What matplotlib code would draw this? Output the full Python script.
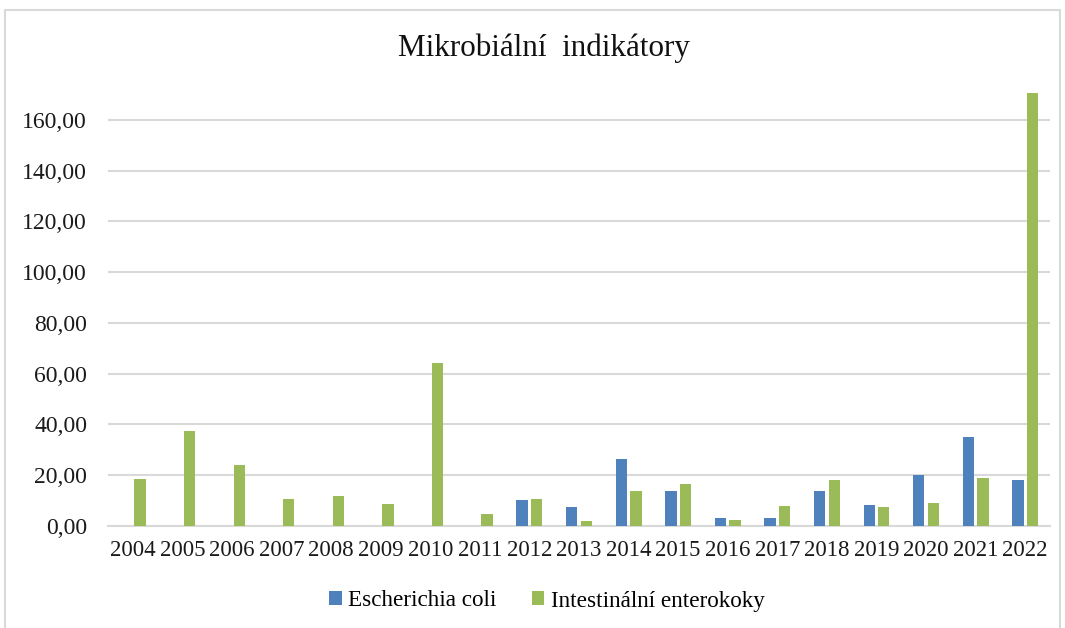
import matplotlib as mpl
import matplotlib.pyplot as plt
import numpy as np
from matplotlib.patches import Rectangle

mpl.rcParams["font.family"] = "Liberation Serif"

years = ["2004", "2005", "2006", "2007", "2008", "2009", "2010", "2011", "2012", "2013",
         "2014", "2015", "2016", "2017", "2018", "2019", "2020", "2021", "2022"]
e_coli = [0, 0, 0, 0, 0, 0, 0, 0, 10.2, 7.5, 26.3, 13.7, 3.0, 3.0, 13.7, 8.3, 19.9, 35.1, 18.2]
enterokoky = [18.6, 37.4, 23.9, 10.7, 12.0, 8.8, 64.2, 4.8, 10.7, 2.1, 13.7, 16.4, 2.5, 7.9,
              18.2, 7.5, 9.2, 19.1, 170.5]
yticks = [0, 20, 40, 60, 80, 100, 120, 140, 160]

BLUE = "#4f81bd"
GREEN = "#9bbb59"
GRID = "#d9d9d9"

fig = plt.figure(figsize=(10.65, 6.28), dpi=100)
ax = fig.add_axes([108 / 1065, 102 / 628, 942 / 1065, 436.5 / 628])

x = np.arange(len(years))
w = 0.228
ax.bar(x - 0.147, e_coli, w, color=BLUE, label="Escherichia coli", zorder=3)
ax.bar(x + 0.147, enterokoky, w, color=GREEN, label="Intestinální enterokoky", zorder=3)

ax.set_xlim(-0.5, len(years) - 0.5)
ax.set_ylim(0, 172)
ax.set_yticks(yticks)
ax.set_yticklabels([f"{v:.2f}".replace(".", ",") for v in yticks], fontsize=17)
ax.set_xticks(x)
ax.set_xticklabels(years, fontsize=16.5)
ax.tick_params(axis="both", length=0, colors="#1a1a1a")
ax.tick_params(axis="y", pad=15)
ax.tick_params(axis="x", pad=10)
ax.grid(axis="y", color=GRID, linewidth=1.5, zorder=0)
for s in ["top", "right", "left"]:
    ax.spines[s].set_visible(False)
ax.spines["bottom"].set_color(GRID)
ax.spines["bottom"].set_linewidth(1.5)

fig.text(544 / 1065, 1 - 48 / 628, "Mikrobiální  indikátory", ha="center", va="center",
         fontsize=22.4, color="#111111")

fig.legend(loc="center", bbox_to_anchor=(547 / 1065, 1 - 601 / 628), ncol=2, frameon=False,
           fontsize=16.7, handlelength=0.55, handleheight=0.55, handletextpad=0.3,
           columnspacing=1.5)

fig.patches.append(Rectangle((5 / 1065, -0.05), 1055 / 1065, 1.05 - 10 / 628,
                             transform=fig.transFigure, fill=False, edgecolor=GRID,
                             linewidth=1.5))

plt.savefig("out.png")
